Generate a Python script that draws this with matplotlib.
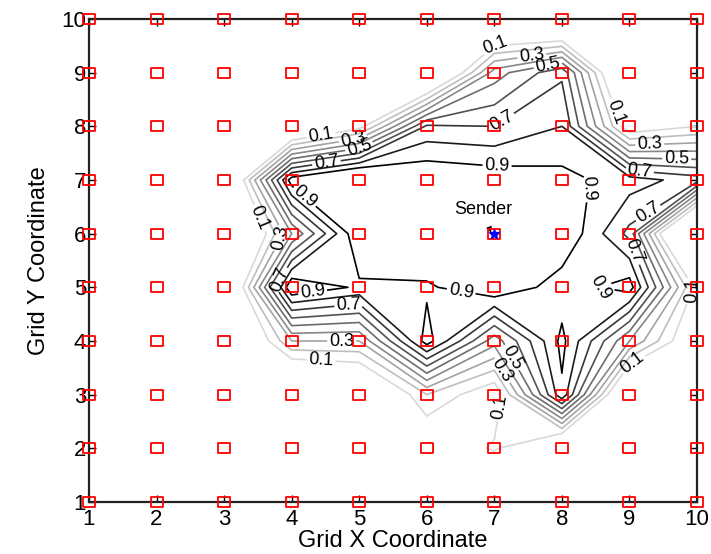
import matplotlib
matplotlib.use("Agg")
import matplotlib.pyplot as plt
import numpy as np
from matplotlib.path import Path

plt.rcParams["font.family"] = ["Liberation Sans", "DejaVu Sans"]

# grid node coordinates
grid_x = [1, 2, 3, 4, 5, 6, 7, 8, 9, 10]
grid_y = [1, 2, 3, 4, 5, 6, 7, 8, 9, 10]

# field value at each node, one list per row (y = 1 ... 10)
row_y1 = [-0.30, -0.30, -0.30, -0.30, -0.30, -0.30, -0.30, -0.30, -0.30, -0.30]
row_y2 = [-0.30, -0.30, -0.30, -0.30, -0.30, -0.05, 0.12, -0.20, -0.30, -0.30]
row_y3 = [-0.30, -0.30, -0.30, -0.30, -0.20, 0.20, 0.00, 0.88, -0.27, -0.30]
row_y4 = [-0.30, -0.30, -0.29, 0.30, 0.30, 0.95, 0.44, 0.93, 0.40, -0.07]
row_y5 = [-0.30, -0.30, -0.25, 1.00, 0.88, 0.88, 1.00, 0.84, 0.95, 0.05]
row_y6 = [-0.30, -0.30, -0.40, 0.40, 1.00, 1.05, 1.10, 1.00, 0.67, -0.60]
row_y7 = [-0.30, -0.30, -0.25, 0.96, 1.15, 1.00, 0.97, 0.935, 0.85, 0.75]
row_y8 = [-0.30, -0.30, -0.30, -0.20, 0.05, 0.72, 0.70, 0.80, 0.00, 0.10]
row_y9 = [-0.30, -0.30, -0.30, -0.30, -0.30, -0.30, 0.45, 0.68, -0.30, -0.30]
row_y10 = [-0.30, -0.30, -0.30, -0.30, -0.30, -0.30, -0.25, -0.30, -0.30, -0.30]

levels = [0.1, 0.2, 0.3, 0.4, 0.5, 0.6, 0.7, 0.8, 0.9]
labelled_levels = [0.1, 0.3, 0.5, 0.7, 0.9]

sender_xy = (7, 6)

# where the contour labels sit (data coords)
label_spots = [
    (7.0, 9.7), (7.55, 9.35), (7.8, 9.1), (7.15, 8.02), (7.04, 7.28),
    (4.42, 7.96), (3.28, 6.16), (3.83, 5.93), (4.27, 6.8), (4.52, 7.27),
    (4.9, 7.83), (5.0, 7.6), (4.31, 4.91), (3.83, 5.13), (4.85, 4.61),
    (4.74, 4.02), (4.42, 3.27), (6.53, 5.08), (7.27, 3.7), (7.18, 3.5),
    (7.1, 2.77), (8.56, 4.95), (9.15, 3.36), (9.9, 4.95),
    (9.0, 8.36), (9.3, 7.68), (9.7, 7.42), (9.15, 7.2), (8.7, 6.8),
    (9.3, 6.34), (8.8, 5.54),
]

Z = np.array([row_y1, row_y2, row_y3, row_y4, row_y5,
              row_y6, row_y7, row_y8, row_y9, row_y10])
X, Y = np.meshgrid(grid_x, grid_y)

fig = plt.figure(figsize=(7.11, 5.54), dpi=100)
ax = fig.add_axes([89 / 711, 1 - 502 / 554, 608 / 711, 483 / 554])

grey_of = dict(zip(levels, np.linspace(0.85, 0.0, len(levels))))
plain_levels = [lv for lv in levels if lv not in labelled_levels]
ax.contour(X, Y, Z, levels=plain_levels,
           colors=[str(grey_of[lv]) for lv in plain_levels], linewidths=1.2)
cs = ax.contour(X, Y, Z, levels=labelled_levels,
                colors=[str(grey_of[lv]) for lv in labelled_levels], linewidths=1.2)
ax.clabel(cs, manual=label_spots, inline=True, fontsize=13, fmt="%.1f",
          colors="black", inline_spacing=2)

# open rectangles at every grid node
rect = Path([(-1.0, -0.84), (1.0, -0.84), (1.0, 0.84), (-1.0, 0.84), (-1.0, -0.84)],
            [Path.MOVETO, Path.LINETO, Path.LINETO, Path.LINETO, Path.CLOSEPOLY])
ax.plot(X.ravel(), Y.ravel(), linestyle="none", marker=rect, markersize=9.2,
        markerfacecolor="none", markeredgecolor="red", markeredgewidth=1.3,
        clip_on=False, zorder=5)

ax.plot(*sender_xy, marker="*", color="blue", markersize=7, linestyle="none",
        zorder=6)
ax.annotate("Sender", xy=(6.95, 6.02), xytext=(6.83, 6.45), ha="center",
            va="center", fontsize=13,
            arrowprops=dict(arrowstyle="-|>", color="black", lw=0.8,
                            shrinkA=9, shrinkB=0, mutation_scale=8))

ax.set_xlim(1, 10)
ax.set_ylim(1, 10)
ax.set_xticks(grid_x)
ax.set_yticks(grid_y)
ax.tick_params(direction="in", length=5, width=1, top=True, right=True,
               labelsize=16, colors="black")
ax.tick_params(axis="x", pad=5)
ax.tick_params(axis="y", pad=2)
for sp in ax.spines.values():
    sp.set_linewidth(1.6)
    sp.set_color("#222222")
ax.set_xlabel("Grid X Coordinate", fontsize=17, labelpad=0)
ax.set_ylabel("Grid Y Coordinate", fontsize=17, labelpad=8)

fig.savefig("out.png", dpi=100)
